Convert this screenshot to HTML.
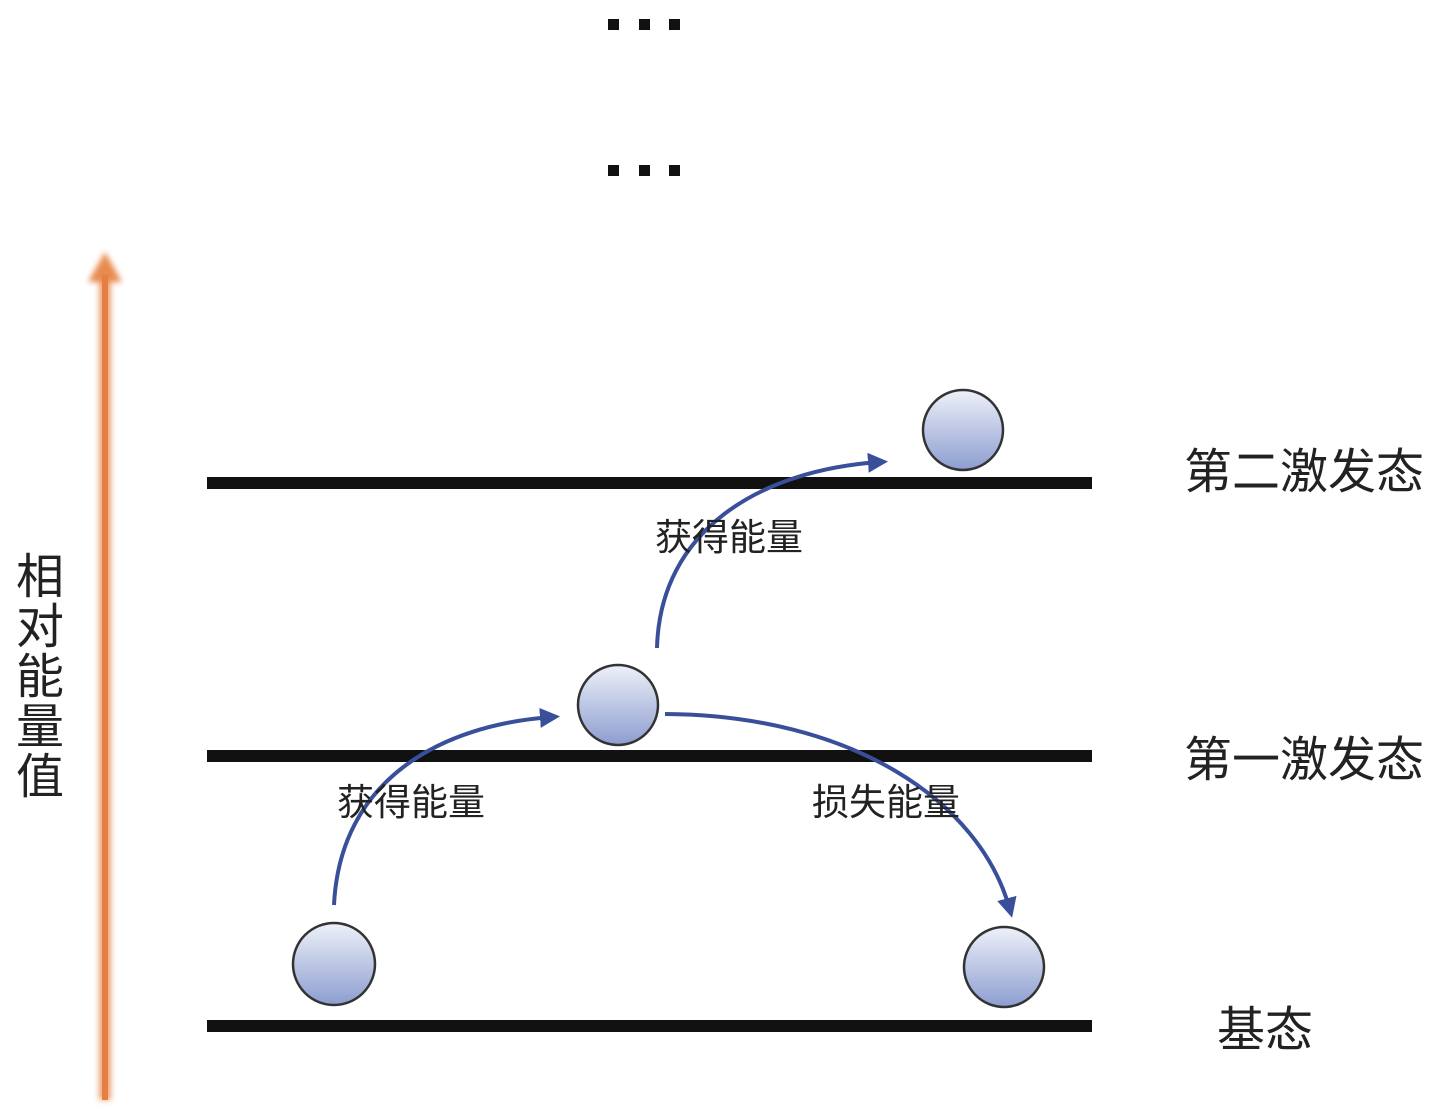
<!DOCTYPE html>
<html><head><meta charset="utf-8"><style>
body{margin:0;background:#fff;}
svg{display:block}
text{font-family:"Liberation Sans","Noto Sans CJK SC",sans-serif;fill:#222}
</style></head><body>
<svg width="1442" height="1110" viewBox="0 0 1442 1110" xmlns="http://www.w3.org/2000/svg">
<defs>
<linearGradient id="b" x1="0" y1="0" x2="0" y2="1">
<stop offset="0" stop-color="#eef1f9"/><stop offset="1" stop-color="#8c9dd0"/></linearGradient>
<filter id="bl"><feGaussianBlur stdDeviation="3"/></filter>
<marker id="ah" markerWidth="5" markerHeight="5" refX="3" refY="2.5" orient="auto" markerUnits="strokeWidth">
<path d="M0,0 L5,2.5 L0,5 z" fill="#3a4f9a"/></marker>
</defs>
<g fill="#111">
<rect x="608" y="19" width="11" height="11"/><rect x="639" y="19" width="11" height="11"/><rect x="669" y="19" width="11" height="11"/>
<rect x="608" y="165" width="11" height="11"/><rect x="639" y="165" width="11" height="11"/><rect x="669" y="165" width="11" height="11"/>
</g>
<g filter="url(#bl)">
<rect x="99" y="275" width="12" height="825" fill="#f0a070"/>
<path d="M88,282 L105,252 L122,282 z" fill="#e88a50"/>
</g>
<rect x="102" y="275" width="6" height="825" fill="#e47f45"/>
<g fill="#111">
<rect x="207" y="477" width="885" height="12"/>
<rect x="207" y="750" width="885" height="12"/>
<rect x="207" y="1020" width="885" height="12"/>
</g>
<g fill="none" stroke="#3a4f9a" stroke-width="4">
<path d="M334,905 C340,780 440,725 552,717" marker-end="url(#ah)"/>
<path d="M657,648 C660,530 760,470 880,462" marker-end="url(#ah)"/>
<path d="M665,714 C850,715 980,800 1010,910" marker-end="url(#ah)"/>
</g>
<g fill="url(#b)" stroke="#333" stroke-width="2.5">
<circle cx="963" cy="430" r="40"/>
<circle cx="618" cy="705" r="40"/>
<circle cx="334" cy="964" r="41"/>
<circle cx="1004" cy="967" r="40"/>
</g>
<g font-size="48">
<text x="1184" y="488">第二激发态</text>
<text x="1184" y="776">第一激发态</text>
<text x="1217" y="1046">基态</text>
</g>
<g font-size="37">
<text x="655" y="550">获得能量</text>
<text x="337" y="815">获得能量</text>
<text x="812" y="815">损失能量</text>
</g>
<g font-size="48">
<text x="16" y="593">相</text>
<text x="16" y="643">对</text>
<text x="16" y="693">能</text>
<text x="16" y="743">量</text>
<text x="16" y="793">值</text>
</g>
</svg>
</body></html>
